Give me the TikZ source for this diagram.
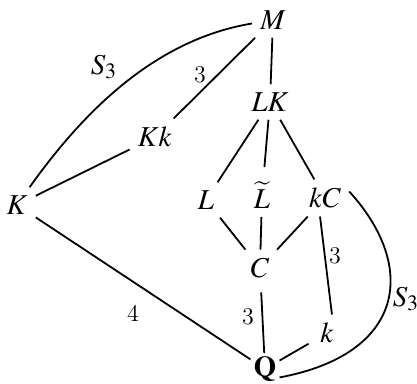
\documentclass[tikz,border=0pt]{standalone}
\usepackage{mathptmx}
\begin{document}
\begin{tikzpicture}[x=0.5pt,y=-0.5pt,
  every node/.style={inner sep=4pt, font=\Large},
  lbl/.style={font=\large, inner sep=0pt},
  edge/.style={line width=0.9pt}]
\useasboundingbox (0,0) rectangle (417,384);
% vertices
\node (M)  at (273,20)  {$M$};
\node (LK) at (270,102) {$LK$};
\node (Kk) at (155,137) {$Kk$};
\node (K)  at (17,205)  {$K$};
\node (L)  at (206,200) {$L$};
\node (Lt) at (262,195) {$\widetilde{L}$};
\node (kC) at (325,198) {$kC$};
\node (C)  at (260,268) {$C$};
\node (k)  at (327,333) {$k$};
\node[inner sep=1.5pt] (Q)  at (265,369) {$\mathbf{Q}$};
% labels
\node[font=\Large, inner sep=0pt] (s3a) at (104,67)  {$S_3$};
\node[lbl] (t1)  at (200,75)  {3};
\node[lbl] (t4)  at (133,313) {4};
\node[lbl] (t2)  at (248,317) {3};
\node[lbl] (t3)  at (335,256) {3};
\node[font=\Large, inner sep=0pt] (s3b) at (406,299) {$S_3$};
% edges
\draw[edge] (K) -- (Kk);
\draw[edge] (Kk) -- (M);
\draw[edge] (M) -- (LK);
\draw[edge] (LK) -- (L);
\draw[edge, shorten >=3pt] (LK) -- (Lt);
\draw[edge] (LK) -- (kC);
\draw[edge] (L) -- (C);
\draw[edge] (Lt) -- (C);
\draw[edge] (kC) -- (C);
\draw[edge] (kC.-105) -- (k.75);
\draw[edge, shorten <=3pt] (C) -- (Q);
\draw[edge, shorten <=2pt] (k) -- (Q);
\draw[edge] (K) -- (Q);
\draw[edge] (K) .. controls (93,98) and (165,38) .. (M);
\draw[edge] (kC.15) .. controls (418,267) and (405,354) .. (Q.-30);
\end{tikzpicture}
\end{document}
